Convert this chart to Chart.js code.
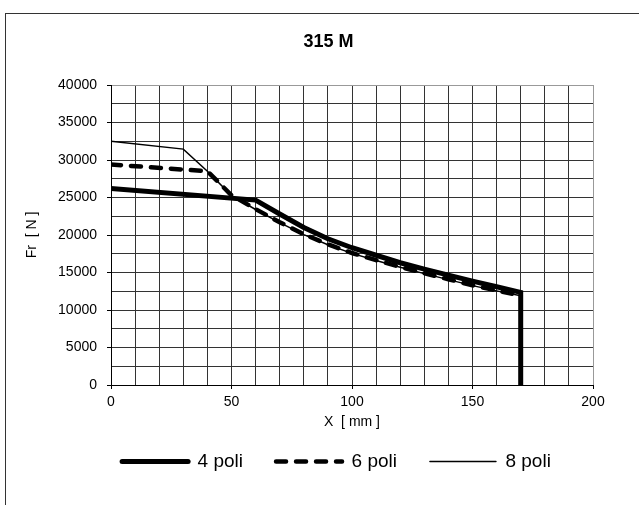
<!DOCTYPE html>
<html>
<head>
<meta charset="utf-8">
<script src="https://cdn.jsdelivr.net/npm/chart.js@4.4.1/dist/chart.umd.min.js"></script>
<style>
  body { margin: 0; background: #fff; }
</style>
</head>
<body>
<canvas id="frChart" width="639" height="505"></canvas>
<script>
// valori: X [mm] e Fr [N]
const x4 = [0, 60, 70, 80, 90, 100, 110, 120, 130, 140, 150, 160, 170, 170];
const fr4 = [26200, 24650, 22800, 21000, 19500, 18300, 17300, 16300, 15450, 14650, 13850, 13100, 12350, 0];

const x6 = [0, 40, 50, 60, 70, 80, 90, 100, 110, 120, 130, 140, 150, 160, 170];
const fr6 = [29400, 28500, 25300, 23450, 21700, 20100, 18750, 17600, 16650, 15750, 14900, 14100, 13300, 12600, 11950];

const x8 = [0, 30, 40, 50, 60, 70, 80, 90, 100, 110, 120, 130, 140, 150, 160, 170];
const fr8 = [32500, 31450, 28500, 25250, 23400, 21650, 20050, 18700, 17550, 16600, 15700, 14850, 14050, 13250, 12550, 11900];

const seriesNames = ['4 poli', '6 poli', '8 poli'];

function toPoints(xs, ys) {
    return xs.map((x, i) => ({ x: x, y: ys[i] }));
}

Chart.defaults.font.family = "'Liberation Sans', Arial, sans-serif";
Chart.defaults.color = '#000';

const frame = {
    id: 'frame',
    beforeDraw(chart) {
        const c = chart.ctx;
        c.save();
        c.fillStyle = '#fff';
        c.fillRect(0, 0, chart.width, chart.height);
        c.strokeStyle = '#333';
        c.lineWidth = 1;
        c.strokeRect(5.5, 13.5, 700, 600);
        c.restore();
    }
};

// la legenda nel grafico originale e' un po' spostata a destra
const legendShift = {
    id: 'legendShift',
    afterLayout(chart) {
        chart.legend.left += 8;
        chart.legend.right += 8;
    }
};

const ctx = document.getElementById('frChart').getContext('2d');

new Chart(ctx, {
    type: 'line',
    data: {
        datasets: [
            {
                label: seriesNames[0],
                data: toPoints(x4, fr4),
                borderColor: '#000',
                backgroundColor: '#000',
                borderWidth: 5,
                borderCapStyle: 'round',
                pointRadius: 0,
                tension: 0
            },
            {
                label: seriesNames[1],
                data: toPoints(x6, fr6),
                borderColor: '#000',
                backgroundColor: '#000',
                borderWidth: 4.5,
                borderDash: [10, 10],
                borderCapStyle: 'round',
                pointRadius: 0,
                tension: 0
            },
            {
                label: seriesNames[2],
                data: toPoints(x8, fr8),
                borderColor: '#000',
                backgroundColor: '#000',
                borderWidth: 1.5,
                pointRadius: 0,
                tension: 0
            }
        ]
    },
    options: {
        responsive: false,
        animation: false,
        layout: {
            padding: { left: 18, right: 0, top: 14, bottom: 24 }
        },
        plugins: {
            title: {
                display: true,
                text: '315 M',
                font: { size: 18, weight: 'bold' },
                color: '#000',
                padding: { top: 17, bottom: 32.4 }
            },
            legend: {
                position: 'bottom',
                labels: {
                    usePointStyle: true,
                    pointStyle: 'line',
                    pointStyleWidth: 66,
                    boxWidth: 66,
                    padding: 33,
                    font: { size: 19 },
                    color: '#000',
                    generateLabels: chart => {
                        const items = Chart.defaults.plugins.legend.labels.generateLabels(chart);
                        return items.map((item, i) => {
                            const ds = chart.data.datasets[i];
                            item.lineDash = ds.borderDash || [];
                            item.lineWidth = ds.borderWidth;
                            item.lineCap = 'round';
                            item.pointStyle = 'line';
                            return item;
                        });
                    }
                }
            },
            tooltip: { enabled: false }
        },
        scales: {
            x: {
                type: 'linear',
                min: 0,
                max: 200,
                ticks: {
                    stepSize: 10,
                    autoSkip: false,
                    maxRotation: 0,
                    padding: 5,
                    font: { size: 14 },
                    callback: v => (v % 50 === 0 ? v : '')
                },
                grid: {
                    color: c => (c.tick && c.tick.value === 200 ? '#999' : '#333'),
                    tickLength: 4,
                    tickColor: c => (c.tick && c.tick.value % 50 === 0 ? '#000' : 'rgba(0,0,0,0)')
                },
                border: { color: '#000', width: 1 },
                title: {
                    display: true,
                    text: 'X  [ mm ]',
                    font: { size: 14 },
                    padding: { top: 0, bottom: -11.4 }
                },
                afterFit: s => { s.height = 34; }
            },
            y: {
                min: 0,
                max: 40000,
                ticks: {
                    stepSize: 2500,
                    autoSkip: false,
                    padding: 10,
                    font: { size: 14 },
                    callback: v => (v % 5000 === 0 ? v : '')
                },
                grid: {
                    color: c => (c.tick && c.tick.value === 40000 ? '#999' : '#333'),
                    tickLength: 4,
                    tickColor: c => (c.tick && c.tick.value % 5000 === 0 ? '#000' : 'rgba(0,0,0,0)')
                },
                border: { color: '#000', width: 1 },
                title: {
                    display: true,
                    text: 'Fr  [ N ]',
                    font: { size: 14 },
                    padding: { top: 6, bottom: 0 }
                },
                afterFit: s => { s.width = 93; }
            },
            yRight: {
                position: 'right',
                display: true,
                ticks: { display: false },
                grid: { display: false },
                border: { display: false },
                afterFit: s => { s.width = 46; }
            }
        }
    },
    plugins: [frame, legendShift]
});
</script>
</body>
</html>
